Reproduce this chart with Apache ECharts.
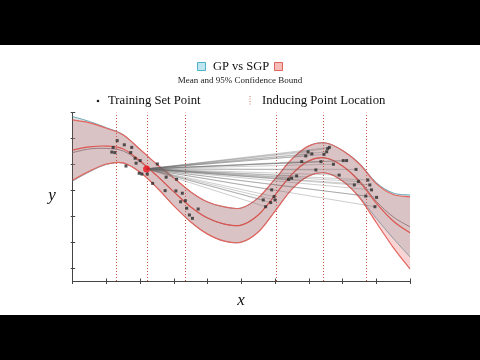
<!DOCTYPE html>
<html><head><meta charset="utf-8">
<script src="https://cdn.jsdelivr.net/npm/echarts@6/dist/echarts.min.js"></script>
<style>
html,body{margin:0;padding:0;background:#000;width:480px;height:360px;overflow:hidden}
#c{position:absolute;left:0;top:45px;width:480px;height:270px;background:#fff}
</style>
</head><body><div id="c"></div>
<script>
// x sample positions
const xs = [0,0.5,1,1.5,2,2.5,3,3.5,4,4.5,5,5.5,6,6.5,7,7.5,8,8.5,9,9.5,10];
// SGP mean and 95% bounds
const sgpMean  = [1.56,1.68,1.71,1.60,1.14,0.56,-0.06,-0.64,-1.07,-1.30,-1.34,-0.95,-0.18,0.63,1.14,1.25,0.94,0.34,-0.49,-1.18,-1.64];
const sgpUpper = [2.72,2.61,2.40,2.14,1.58,1.00,0.48,-0.06,-0.45,-0.64,-0.68,-0.29,0.44,1.21,1.72,1.83,1.54,1.02,0.26,-0.16,-0.25];
const sgpLower = [0.40,0.75,1.02,1.06,0.70,0.10,-0.60,-1.22,-1.69,-1.96,-2.00,-1.61,-0.80,0.05,0.56,0.67,0.36,-0.28,-1.24,-2.20,-3.03];
// GP mean and 95% bounds
const gpMean   = [1.46,1.60,1.62,1.52,1.10,0.56,-0.06,-0.64,-1.07,-1.30,-1.34,-0.95,-0.18,0.63,1.14,1.25,0.94,0.38,-0.42,-1.02,-1.41];
const gpUpper  = [2.85,2.66,2.42,2.15,1.58,1.00,0.48,-0.06,-0.45,-0.64,-0.68,-0.29,0.44,1.21,1.72,1.83,1.54,1.05,0.30,-0.10,-0.18];
const gpLower  = [0.36,0.72,1.00,1.05,0.70,0.10,-0.60,-1.22,-1.69,-1.96,-2.00,-1.61,-0.80,0.05,0.56,0.67,0.36,-0.25,-1.08,-1.85,-2.57];
// training set points
const trainLeftX  = [1.32,1.53,1.20,1.75,1.16,1.25,1.72,1.85,2.00,1.88,1.58,2.21,1.97,2.05,2.51,2.77,3.08,2.37,2.74,3.06,3.25,3.34,3.20,3.38,3.46,3.55,3.72];
const trainLeftY  = [1.92,1.76,1.66,1.66,1.48,1.46,1.46,1.24,1.15,1.05,0.94,0.63,0.66,0.63,1.02,0.51,0.43,0.27,-0.01,-0.02,-0.11,-0.40,-0.44,-0.69,-0.95,-1.08,-0.72];
const trainRightX = [6.98,6.91,7.09,6.79,7.56,7.61,7.53,7.45,8.02,8.12,7.36,7.73,7.21,6.64,6.49,6.40,8.40,7.90,5.90,5.65,5.87,6.00,5.72,5.97,8.47,8.35,8.75,8.81,8.86,9.01,8.69,8.96];
const trainRightY = [1.49,1.33,1.41,1.11,1.61,1.66,1.49,1.39,1.15,1.15,1.11,1.01,0.79,0.56,0.47,0.42,0.81,0.59,0.02,-0.37,-0.47,-0.37,-0.63,-0.24,0.34,0.21,0.40,0.21,0.02,-0.27,-0.22,-0.63];
// highlighted point
const redPoint = [2.19, 0.83];
// inducing point locations
const inducingX = [1.28, 2.21, 3.35, 6.03, 7.43, 8.70];
// axis ticks
const xTicks = [0,1,2,3,4,5,6,7,8,9,10];
const yTicks = [-3,-2,-1,0,1,2,3];

const SERIF = '"Liberation Serif", "DejaVu Serif", serif';

// smooth cubic path through pixel points (Catmull-Rom -> Bezier)
function curveSegs(P){
  let d = '';
  for (let i = 0; i < P.length - 1; i++){
    const p0 = P[i-1] || P[i], p1 = P[i], p2 = P[i+1], p3 = P[i+2] || P[i+1];
    const c1x = p1[0] + (p2[0]-p0[0])/6, c1y = p1[1] + (p2[1]-p0[1])/6;
    const c2x = p2[0] - (p3[0]-p1[0])/6, c2y = p2[1] - (p3[1]-p1[1])/6;
    d += 'C' + c1x.toFixed(2) + ',' + c1y.toFixed(2) + ',' + c2x.toFixed(2) + ',' + c2y.toFixed(2) + ',' + p2[0].toFixed(2) + ',' + p2[1].toFixed(2);
  }
  return d;
}
function toPix(api, ys){ return xs.map((x,i)=>api.coord([x, ys[i]])); }

function bandSeries(upper, lower, color, z){
  return {type:'custom', data:[[0,0]], silent:true, z, clip:true,
    renderItem(params, api){
      const U = toPix(api, upper), L = toPix(api, lower).reverse();
      const d = 'M' + U[0][0] + ',' + U[0][1] + curveSegs(U) + 'L' + L[0][0] + ',' + L[0][1] + curveSegs(L) + 'Z';
      return {type:'path', shape:{pathData:d}, style:{fill:color, stroke:null}};
    }};
}
function curveSeries(ys, color, width, z){
  return {type:'custom', data:[[0,0]], silent:true, z, clip:true,
    renderItem(params, api){
      const P = toPix(api, ys);
      const d = 'M' + P[0][0] + ',' + P[0][1] + curveSegs(P);
      return {type:'path', shape:{pathData:d}, style:{fill:null, stroke:color, lineWidth:width}};
    }};
}

const leftPts = trainLeftX.map((x,i)=>[x, trainLeftY[i]]);
const rightPts = trainRightX.map((x,i)=>[x, trainRightY[i]]);
const links = rightPts.map(p => ({coords:[redPoint, p]}));

const chart = echarts.init(document.getElementById('c'));
chart.setOption({
  backgroundColor:'#fff',
  animation:false,
  grid:{left:72.7, right:70, top:67.7, bottom:34},
  xAxis:[
    {type:'value', min:0, max:10, interval:1, position:'bottom',
     axisLine:{show:true, onZero:false, lineStyle:{color:'#444', width:1}},
     axisTick:{show:true, length:3, lineStyle:{color:'#444'}, customValues:xTicks},
     axisLabel:{show:false}, splitLine:{show:false}},
    {type:'value', min:0, max:10, interval:1, position:'bottom',
     axisLine:{show:false, onZero:false},
     axisTick:{show:true, inside:true, length:2.5, lineStyle:{color:'#444'}, customValues:xTicks},
     axisLabel:{show:false}, splitLine:{show:false}}
  ],
  yAxis:[
    {type:'value', min:-3.5, max:3, position:'left',
     axisLine:{show:true, onZero:false, lineStyle:{color:'#444', width:1}},
     axisTick:{show:true, length:2, lineStyle:{color:'#444'}, customValues:yTicks},
     axisLabel:{show:false}, splitLine:{show:false}},
    {type:'value', min:-3.5, max:3, position:'left',
     axisLine:{show:false, onZero:false},
     axisTick:{show:true, inside:true, length:2.5, lineStyle:{color:'#444'}, customValues:yTicks},
     axisLabel:{show:false}, splitLine:{show:false}}
  ],
  series:[
    bandSeries(sgpUpper, sgpLower, 'rgba(232,100,100,0.28)', 1),
    bandSeries(gpUpper, gpLower, 'rgba(140,150,158,0.28)', 1),
    curveSeries(gpUpper, '#6aaab8', 1, 3),
    curveSeries(gpLower, '#8a9aa4', 1, 3),
    curveSeries(gpMean, '#9a7c80', 1, 3),
    curveSeries(sgpUpper, '#e4645e', 1.2, 4),
    curveSeries(sgpLower, '#e4645e', 1.2, 4),
    curveSeries(sgpMean, '#dc5650', 1.2, 4),
    {type:'lines', coordinateSystem:'cartesian2d', data:links, silent:true, z:5,
     lineStyle:{color:'#666', width:0.6, opacity:0.55}},
    {type:'scatter', data:leftPts.concat(rightPts), symbol:'rect', symbolSize:3,
     itemStyle:{color:'#2a2a2a'}, silent:true, z:6,
     markLine:{silent:true, symbol:'none', label:{show:false}, animation:false,
       lineStyle:{color:'#c8503e', width:1, type:[1,2]},
       emphasis:{disabled:true},
       data: inducingX.map(v=>({xAxis:v}))}},
    {type:'scatter', data:[redPoint], symbol:'circle', symbolSize:7,
     itemStyle:{color:'#e8141c'}, silent:true, z:7}
  ],
  graphic:[
    {type:'rect', shape:{x:197.5, y:17.5, width:8, height:8}, style:{fill:'#bfe6ef', stroke:'#4fb3c8', lineWidth:1}},
    {type:'text', x:213, y:21.5, style:{text:'GP vs SGP', font:'12.5px '+SERIF, fill:'#111', align:'left', textAlign:'left', verticalAlign:'middle', textVerticalAlign:'middle'}},
    {type:'rect', shape:{x:274.5, y:17.5, width:8, height:8}, style:{fill:'#f5bcb8', stroke:'#e0645c', lineWidth:1}},
    {type:'text', x:240, y:35.7, style:{text:'Mean and 95% Confidence Bound', font:'9px '+SERIF, fill:'#222', align:'center', textAlign:'center', verticalAlign:'middle', textVerticalAlign:'middle'}},
    {type:'circle', shape:{cx:98, cy:56, r:1.3}, style:{fill:'#222'}},
    {type:'text', x:108, y:56, style:{text:'Training Set Point', font:'12.7px '+SERIF, fill:'#111', align:'left', textAlign:'left', verticalAlign:'middle', textVerticalAlign:'middle'}},
    {type:'line', shape:{x1:250, y1:51, x2:250, y2:61}, style:{stroke:'#c8705e', lineWidth:1, lineDash:[1,1.5]}},
    {type:'text', x:262, y:56, style:{text:'Inducing Point Location', font:'12.7px '+SERIF, fill:'#111', align:'left', textAlign:'left', verticalAlign:'middle', textVerticalAlign:'middle'}},
    {type:'text', x:52, y:151, style:{text:'y', font:'italic 17px '+SERIF, fill:'#111', align:'center', textAlign:'center', verticalAlign:'middle', textVerticalAlign:'middle'}},
    {type:'text', x:241, y:256, style:{text:'x', font:'italic 17px '+SERIF, fill:'#111', align:'center', textAlign:'center', verticalAlign:'middle', textVerticalAlign:'middle'}}
  ]
});
</script>
</body></html>
